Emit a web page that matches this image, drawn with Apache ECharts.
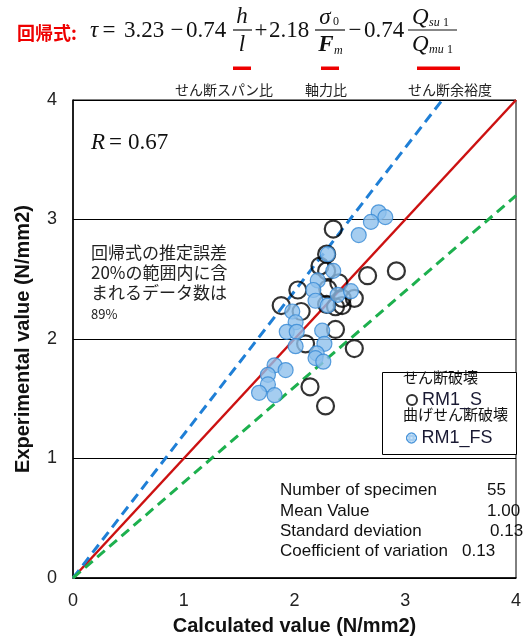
<!DOCTYPE html>
<html><head><meta charset="utf-8">
<script src="https://cdn.jsdelivr.net/npm/echarts@6/dist/echarts.min.js"></script>
<style>html,body{margin:0;padding:0;background:#fff}#c{width:525px;height:641px}</style>
</head><body><div id="c"></div>
<script>
// ---- data ----
const axisTicks = [0, 1, 2, 3, 4];
// RM1_S (せん断破壊)
const rm1S_calc = [2.35,2.29,2.23,2.29,2.40,2.66,2.92,2.03,2.30,2.43,2.54,1.88,2.06,2.29,2.37,2.43,2.37,2.10,2.54,2.14,2.28];
const rm1S_exp  = [2.92,2.71,2.61,2.57,2.47,2.53,2.57,2.41,2.42,2.34,2.34,2.28,2.23,2.29,2.27,2.28,2.08,1.96,1.92,1.60,1.44];
// RM1_FS (曲げせん断破壊)
const rm1FS_calc = [2.76,2.82,2.69,2.58,2.30,2.35,2.21,2.17,2.19,2.30,2.39,2.51,1.98,2.01,1.93,2.02,2.25,2.01,2.27,2.20,2.19,2.26,1.82,1.92,1.76,1.76,1.68,1.82];
const rm1FS_exp  = [3.06,3.02,2.98,2.87,2.71,2.57,2.49,2.41,2.32,2.28,2.37,2.40,2.23,2.14,2.06,2.06,2.07,1.94,1.96,1.88,1.84,1.81,1.78,1.74,1.70,1.62,1.55,1.53];
// reference lines: y = k * x
const refSlopes = [1.0, 1.2, 0.8];
const statLabels = ['Number of specimen', 'Mean Value', 'Standard deviation', 'Coefficient of variation'];
const statValues = ['55', '1.00', '0.13', '0.13'];
const rValue = '0.67';
const noteLines = ['回帰式の推定誤差', '20%の範囲内に含', 'まれるデータ数は', '89%'];

// ---- chart ----
const zip = (a, b) => a.map((v, i) => [v, b[i]]);
const AX_MAX = axisTicks[axisTicks.length - 1];
const refLine = k => { const xe = Math.min(AX_MAX, AX_MAX / k); return [[0, 0], [xe, k * xe]]; };

const SERIF = "'Liberation Serif','Times New Roman',serif";
const SANS = "'Liberation Sans',Arial,sans-serif";
const CJK = "'Noto Sans CJK JP',sans-serif";

const g = [];
function txt(x, y, text, font, opts) {
  opts = opts || {};
  g.push({type:'text', x:x, y:y, z:100, style:{text:text, font:font, fill:opts.fill||'#111',
    textAlign:opts.align||'left', textVerticalAlign:opts.va||'middle'}});
}
function bar(x1, x2, y, color, w) {
  g.push({type:'line', z:100, shape:{x1:x1, y1:y, x2:x2, y2:y}, style:{stroke:color||'#111', lineWidth:w||1.2}});
}
// formula
txt(17, 33, '回帰式:', 'bold 18px ' + CJK, {fill:'#ee0000'});
const M = 31;
const FF = '23px ' + SERIF, FI = 'italic 23px ' + SERIF;
txt(90, M, 'τ', FI);
txt(109, M, '=', FF, {align:'center'});
txt(124, M, '3.23', FF);
txt(177, M, '−', FF, {align:'center'});
txt(186, M, '0.74', FF);
txt(242, 17, 'h', FI, {align:'center'});
bar(233, 252, 30);
txt(242, 45, 'l', FI, {align:'center'});
txt(261, M, '+', FF, {align:'center'});
txt(269, M, '2.18', FF);
txt(325, 18, 'σ', FI, {align:'center'});
txt(333, 22, '0', '12px ' + SERIF);
bar(315, 345, 30);
txt(326, 45, 'F', 'italic bold 23px ' + SERIF, {align:'center'});
txt(334, 51, 'm', 'italic 12px ' + SERIF);
txt(355, M, '−', FF, {align:'center'});
txt(364, M, '0.74', FF);
txt(412, 18, 'Q', FI);
txt(429, 23, 'su', 'italic 12px ' + SERIF);
txt(443, 23, '1', '12px ' + SERIF);
bar(408, 457, 30);
txt(412, 45, 'Q', FI);
txt(429, 50, 'mu', 'italic 12px ' + SERIF);
txt(447, 50, '1', '12px ' + SERIF);
// red underline bars
g.push({type:'rect', z:100, shape:{x:233, y:66.5, width:18, height:3.5}, style:{fill:'#ee0000'}});
g.push({type:'rect', z:100, shape:{x:321, y:66.5, width:18, height:3.5}, style:{fill:'#ee0000'}});
g.push({type:'rect', z:100, shape:{x:417, y:66.5, width:43, height:3.5}, style:{fill:'#ee0000'}});
txt(224, 90, 'せん断スパン比', '14px ' + CJK, {align:'center', fill:'#222'});
txt(326, 90, '軸力比', '14px ' + CJK, {align:'center', fill:'#222'});
txt(450, 90, 'せん断余裕度', '14px ' + CJK, {align:'center', fill:'#222'});
// R value
txt(91, 143, 'R', 'italic 23px ' + SERIF);
txt(109, 143, '=', '23px ' + SERIF);
txt(128, 143, rValue, '23px ' + SERIF);
// note
noteLines.forEach((s, i) => txt(91, [253, 273, 293, 314][i], s, (i === 3 ? '13px ' : '17px ') + CJK, {fill:'#222'}));
// stats
const sy = [490, 511, 531, 551];
const sx = [487, 487, 490, 462];
statLabels.forEach((s, i) => { txt(280, sy[i], s, '17px ' + SANS); txt(sx[i], sy[i], statValues[i], '17px ' + SANS); });
// legend box
g.push({type:'rect', z:90, shape:{x:382.5, y:372.5, width:134, height:82}, style:{fill:'#fff', stroke:'#000', lineWidth:1}});
txt(403, 377, 'せん断破壊', '15px ' + CJK);
txt(403, 414, '曲げせん断破壊', '15px ' + CJK);

const blueStyle = {color:'#8ec0ec', borderColor:'#3588d4', borderWidth:1.2,
  decal:{symbol:'rect', symbolSize:1, dashArrayX:2, dashArrayY:2, color:'rgba(255,255,255,0.55)'}};
const blackStyle = {color:'rgba(255,255,255,0)', borderColor:'#000', borderWidth:2.2};

const option = {
  animation:false,
  backgroundColor:'#fff',
  grid:{left:73, top:100, right:9, bottom:59, show:true, borderColor:'#000', borderWidth:1, backgroundColor:'transparent'},
  xAxis:{type:'value', min:axisTicks[0], max:AX_MAX, interval:1,
    name:'Calculated value (N/mm2)', nameLocation:'middle', nameGap:38,
    nameTextStyle:{fontFamily:SANS, fontWeight:'bold', fontSize:20, color:'#111'},
    axisLine:{lineStyle:{color:'#000', width:1.5}}, axisTick:{show:false},
    axisLabel:{fontFamily:SANS, fontSize:18, color:'#222', margin:14},
    splitLine:{show:false}},
  yAxis:{type:'value', min:axisTicks[0], max:AX_MAX, interval:1,
    name:'Experimental value (N/mm2)', nameLocation:'middle', nameGap:40,
    nameTextStyle:{fontFamily:SANS, fontWeight:'bold', fontSize:20, color:'#111'},
    axisLine:{lineStyle:{color:'#000', width:1.5}}, axisTick:{show:false},
    axisLabel:{fontFamily:SANS, fontSize:18, color:'#222', margin:16},
    splitLine:{show:true, lineStyle:{color:'#000', width:1}}},
  legend:[
    {left:401, top:386, z:120, itemWidth:10, itemHeight:10, icon:'circle',
      data:[{name:'RM1_S', itemStyle:{color:'rgba(255,255,255,0)', borderColor:'#000', borderWidth:2}}],
      textStyle:{fontFamily:SANS, fontSize:18, color:'#1a1a33'}},
    {left:401, top:424, z:120, itemWidth:10, itemHeight:10, icon:'circle',
      data:[{name:'RM1_FS', itemStyle:{color:'#8ec0ec', borderColor:'#3588d4', borderWidth:1}}],
      textStyle:{fontFamily:SANS, fontSize:18, color:'#1a1a33'}}
  ],
  series:[
    {type:'line', data:refLine(refSlopes[0]), symbol:'none', lineStyle:{color:'#cc1111', width:2.5}, z:2, silent:true},
    {type:'line', data:refLine(refSlopes[1]), symbol:'none', lineStyle:{color:'#1f7fd6', width:3, type:[10,6]}, z:2, silent:true},
    {type:'line', data:refLine(refSlopes[2]), symbol:'none', lineStyle:{color:'#1db04e', width:3, type:[10,6]}, z:2, silent:true},
    {name:'RM1_S', type:'scatter', data:zip(rm1S_calc, rm1S_exp), symbol:'circle', symbolSize:17, itemStyle:blackStyle, z:3},
    {name:'RM1_FS', type:'scatter', data:zip(rm1FS_calc, rm1FS_exp), symbol:'circle', symbolSize:15, itemStyle:blueStyle, z:4}
  ],
  graphic:{elements:g}
};
const chart = echarts.init(document.getElementById('c'), null, {renderer:'canvas'});
chart.setOption(option);
</script>
</body></html>
